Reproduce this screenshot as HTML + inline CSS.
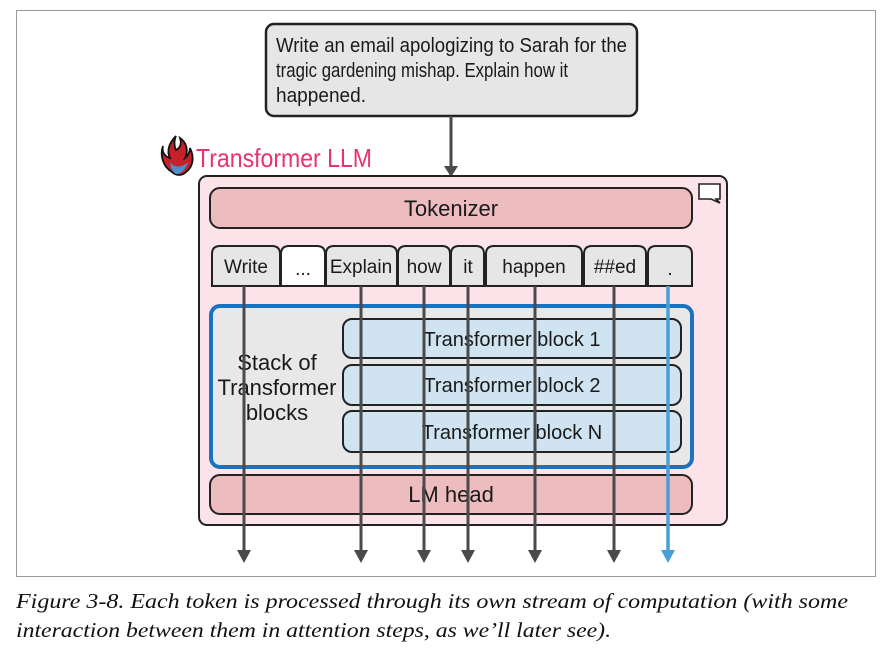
<!DOCTYPE html>
<html><head><meta charset="utf-8"><style>
html,body{margin:0;padding:0;background:#fff;}
svg{display:block;}
.t{font-family:"Liberation Sans",sans-serif;fill:#1a1a1a;}
</style></head><body>
<svg width="890" height="656" viewBox="0 0 890 656" xmlns="http://www.w3.org/2000/svg">
<rect x="16.5" y="10.5" width="859" height="566" fill="#fff" stroke="#9a9a9a" stroke-width="1"/>
<!-- prompt -->
<rect x="266" y="24" width="371" height="92" rx="8" fill="#e6e6e6" stroke="#222" stroke-width="2.5"/>
<text class="t" x="276" y="52" font-size="20" textLength="351" lengthAdjust="spacingAndGlyphs">Write an email apologizing to Sarah for the</text>
<text class="t" x="276" y="77" font-size="20" textLength="292" lengthAdjust="spacingAndGlyphs">tragic gardening mishap. Explain how it</text>
<text class="t" x="276" y="102" font-size="20" textLength="90" lengthAdjust="spacingAndGlyphs">happened.</text>
<line x1="451" y1="116" x2="451" y2="168" stroke="#4a4a4a" stroke-width="3"/>
<polygon points="444,166 458,166 451,177" fill="#4a4a4a"/>
<!-- title -->
<path d="M176,136 C170,142 166,150 170,158 C163,156 162,150 163,146 C160,154 162,166 172,172 C176,176 182,176 186,172 C194,166 194,156 190,148 C190,152 188,156 185,158 C189,150 186,142 180,138 C182,144 180,148 176,150 C174,146 174,140 176,136Z" fill="#c8202b" stroke="#111" stroke-width="1.8"/>
<path d="M170,162 C174,168 182,168 188,162 C186,170 180,174 177,174 C174,174 171,170 170,162Z" fill="#4a8fd0"/>
<text x="196" y="167" font-family="Liberation Sans,sans-serif" font-size="26" fill="#e8336d" textLength="176" lengthAdjust="spacingAndGlyphs">Transformer LLM</text>
<!-- outer pink -->
<rect x="199" y="176" width="528" height="349" rx="8" fill="#fbe3e9" stroke="#222" stroke-width="2"/>
<path d="M699,184 H720 V199 H716 L720,203 L711,199 H699Z" fill="#fff" stroke="#222" stroke-width="1.6"/>
<!-- tokenizer -->
<rect x="210" y="188" width="482" height="40" rx="10" fill="#ecbcbe" stroke="#222" stroke-width="2"/>
<text class="t" x="451" y="216" font-size="22" text-anchor="middle">Tokenizer</text>
<!-- tokens -->
<g stroke="#222" stroke-width="2">
<path d="M212,286 V254 Q212,246 220,246 H272 Q280,246 280,254 V286Z" fill="#e6e6e6"/>
<path d="M281,286 V254 Q281,246 289,246 H317 Q325,246 325,254 V286Z" fill="#fff"/>
<path d="M326,286 V254 Q326,246 334,246 H389 Q397,246 397,254 V286Z" fill="#e6e6e6"/>
<path d="M398,286 V254 Q398,246 406,246 H442 Q450,246 450,254 V286Z" fill="#e6e6e6"/>
<path d="M451,286 V254 Q451,246 459,246 H476 Q484,246 484,254 V286Z" fill="#e6e6e6"/>
<path d="M486,286 V254 Q486,246 494,246 H574 Q582,246 582,254 V286Z" fill="#e6e6e6"/>
<path d="M584,286 V254 Q584,246 592,246 H638 Q646,246 646,254 V286Z" fill="#e6e6e6"/>
<path d="M648,286 V254 Q648,246 656,246 H684 Q692,246 692,254 V286Z" fill="#e6e6e6"/>
</g>
<g class="t" font-size="19" text-anchor="middle">
<text x="246" y="273">Write</text><text x="303" y="275">...</text><text x="361" y="273">Explain</text>
<text x="424" y="273">how</text><text x="468" y="273">it</text><text x="534" y="273">happen</text>
<text x="615" y="273">##ed</text><text x="670" y="275">.</text>
</g>
<!-- stack -->
<rect x="211" y="306" width="481" height="161" rx="9" fill="#e8e8e8" stroke="#1a73c0" stroke-width="4"/>
<g class="t" font-size="22" text-anchor="middle">
<text x="277" y="370">Stack of</text><text x="277" y="395">Transformer</text><text x="277" y="420">blocks</text>
</g>
<g stroke="#222" stroke-width="2" fill="#cfe3f0">
<rect x="343" y="319" width="338" height="39" rx="9"/>
<rect x="343" y="365" width="338" height="40" rx="9"/>
<rect x="343" y="411" width="338" height="41" rx="9"/>
</g>
<g class="t" font-size="20" text-anchor="middle">
<text x="512" y="346">Transformer block 1</text><text x="512" y="392">Transformer block 2</text><text x="512" y="439">Transformer block N</text>
</g>
<!-- LM head -->
<rect x="210" y="475" width="482" height="39" rx="10" fill="#ecbcbe" stroke="#222" stroke-width="2"/>
<text class="t" x="451" y="502" font-size="22" text-anchor="middle">LM head</text>
<!-- streams -->
<g stroke="#4a4a4a" stroke-width="3">
<line x1="244" y1="286" x2="244" y2="555"/><line x1="361" y1="286" x2="361" y2="555"/>
<line x1="424" y1="286" x2="424" y2="555"/><line x1="468" y1="286" x2="468" y2="555"/>
<line x1="535" y1="286" x2="535" y2="555"/><line x1="614" y1="286" x2="614" y2="555"/>
</g>
<line x1="668" y1="286" x2="668" y2="555" stroke="#4a9fd8" stroke-width="3.5"/>
<g fill="#4a4a4a">
<polygon points="237,550 251,550 244,563"/><polygon points="354,550 368,550 361,563"/>
<polygon points="417,550 431,550 424,563"/><polygon points="461,550 475,550 468,563"/>
<polygon points="528,550 542,550 535,563"/><polygon points="607,550 621,550 614,563"/>
</g>
<polygon points="661,550 675,550 668,563" fill="#4a9fd8"/>
<!-- caption -->
<text x="16" y="608" font-family="Liberation Serif,serif" font-style="italic" font-size="21" fill="#111" textLength="832" lengthAdjust="spacingAndGlyphs">Figure 3-8. Each token is processed through its own stream of computation (with some</text>
<text x="16" y="637" font-family="Liberation Serif,serif" font-style="italic" font-size="21" fill="#111" textLength="595" lengthAdjust="spacingAndGlyphs">interaction between them in attention steps, as we’ll later see).</text>
</svg>
</body></html>
